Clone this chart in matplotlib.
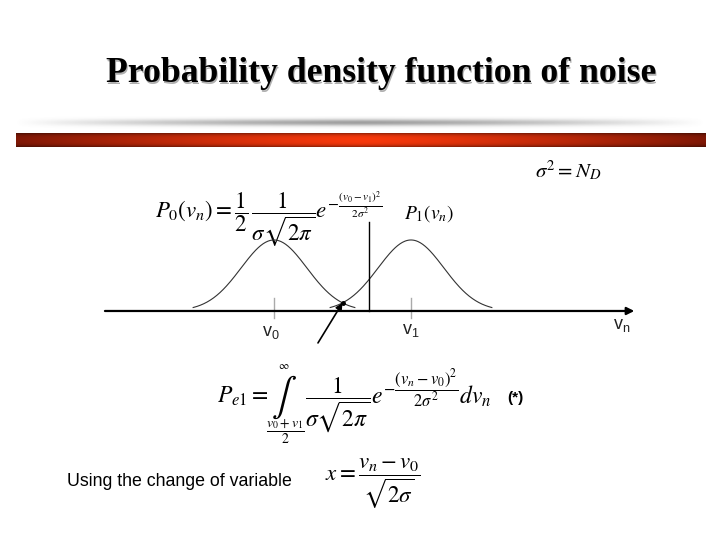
import numpy as np
import matplotlib.pyplot as plt
from matplotlib.colors import to_rgb

plt.rcParams['mathtext.fontset'] = 'stix'

# diagram values (signal levels in volts, noise spread)
v0, v1 = 0.0, 1.0
sigma = 0.24
threshold = 0.69
curve_halfwidth = 0.59
axis_start, axis_end = -1.234, 2.63

title = "Probability density function of noise"
note = "Using the change of variable"


def pdf(v, m):
    return 0.5 / (sigma * np.sqrt(2 * np.pi)) * np.exp(-(v - m) ** 2 / (2 * sigma ** 2))


peak = pdf(v0, v0)

fig = plt.figure(figsize=(7.2, 5.4), dpi=100)
bg = fig.add_axes([0, 0, 1, 1])
bg.set_xlim(0, 720)
bg.set_ylim(540, 0)
bg.axis('off')

# title with drop shadow
bg.text(382.5, 83.5, title, fontsize=25.7, family='Liberation Serif', weight='bold',
        ha='center', va='baseline', color='#b0b0b0')
bg.text(381, 82, title, fontsize=25.7, family='Liberation Serif', weight='bold',
        ha='center', va='baseline', color='black')

# gray fading band
t = np.linspace(0, 1, 400)
hx = np.clip(1 - np.abs(2 * t - 1) ** 1.4, 0, 1)
vy = np.exp(-((np.linspace(-1, 1, 12)) ** 2) / 0.3)
alpha = np.outer(vy, hx) * 0.7
gray = np.zeros((12, 400, 4))
gray[..., :3] = 0.45
gray[..., 3] = alpha
bg.imshow(gray, extent=(15, 705, 129, 116), aspect='auto', interpolation='bilinear', zorder=1)

# red band
dark = np.array(to_rgb('#801806'))
bright = np.array(to_rgb('#f8390c'))
hr = np.clip(1 - np.abs(2 * t - 1) ** 1.3, 0, 1)
vr = 1 - 0.35 * np.abs(np.linspace(-1, 1, 14)) ** 3
red = (dark[None, None, :] + (bright - dark)[None, None, :] * hr[None, :, None]) * vr[:, None, None]
bg.imshow(np.clip(red, 0, 1), extent=(16, 706, 147, 133), aspect='auto', interpolation='bilinear', zorder=1)

# equations
bg.text(535, 178, r'$\sigma^2 = N_D$', fontsize=15, va='baseline')
bg.text(155, 218, r'$P_0(v_n) = \dfrac{1}{2}\,\dfrac{1}{\sigma\sqrt{2\pi}}e^{-\frac{(v_0-v_1)^2}{2\sigma^2}}$',
        fontsize=16.5, va='baseline')
bg.text(404, 219, r'$P_1(v_n)$', fontsize=14, va='baseline')

bg.text(217, 403, r'$P_{e1}=$', fontsize=17, va='baseline')
bg.text(284, 397, r'$\int$', fontsize=27, ha='center', va='center')
bg.text(284, 366, r'$\infty$', fontsize=8, ha='center', va='center')
bg.text(285, 432, r'$\dfrac{v_0+v_1}{2}$', fontsize=10, ha='center', va='center')
bg.text(305, 403, r'$\dfrac{1}{\sigma\sqrt{2\pi}}e^{-\dfrac{(v_n-v_0)^2}{2\sigma^2}}dv_n$',
        fontsize=17, va='baseline')
bg.text(515, 398, '(*)', fontsize=11, family='Liberation Sans', weight='bold', ha='center', va='center')

bg.text(67, 481, note, fontsize=12.8, family='Liberation Sans', va='center')
bg.text(325, 484, r'$x = \dfrac{v_n - v_0}{\sqrt{2\sigma}}$', fontsize=16.5, va='center')

# diagram
ax = fig.add_axes([100 / 720, 220 / 540, 540 / 720, 120 / 540])
ax.set_xlim((100 - 274) / 137, (640 - 274) / 137)
ax.set_ylim(-0.127 * peak, 1.563 * peak)
ax.axis('off')

for m in (v0, v1):
    v = np.linspace(m - curve_halfwidth, m + curve_halfwidth, 200)
    ax.plot(v, pdf(v, m), color='#333333', lw=0.8)
    ax.plot([m, m], [-0.099 * peak, 0.183 * peak], color='#aaaaaa', lw=1)

ax.plot([threshold, threshold], [0, 1.25 * peak], color='black', lw=1)
ax.annotate('', xy=(axis_end, 0), xytext=(axis_start, 0),
            arrowprops=dict(arrowstyle='-|>', lw=1.6, color='black', mutation_scale=11,
                            shrinkA=0, shrinkB=0))

mid = (v0 + v1) / 2
ax.plot([mid], [pdf(mid, v0)], 'o', color='black', ms=2.5)
ax.annotate('', xy=(mid, pdf(mid, v0)), xytext=(0.321, -0.45 * peak),
            arrowprops=dict(arrowstyle='-|>', lw=1.2, color='black', mutation_scale=10,
                            shrinkA=0, shrinkB=0), annotation_clip=False)

for m, yoff, lab in ((v0 - 0.02, -0.31, '0'), (v1, -0.27, '1'), (2.54, -0.2, 'n')):
    ax.text(m, yoff * peak, r'$\mathregular{v_%s}$' % lab, fontsize=13, family='Liberation Sans',
            ha='center', va='center', color='#222222', clip_on=False)

fig.savefig('out.png', dpi=100)
